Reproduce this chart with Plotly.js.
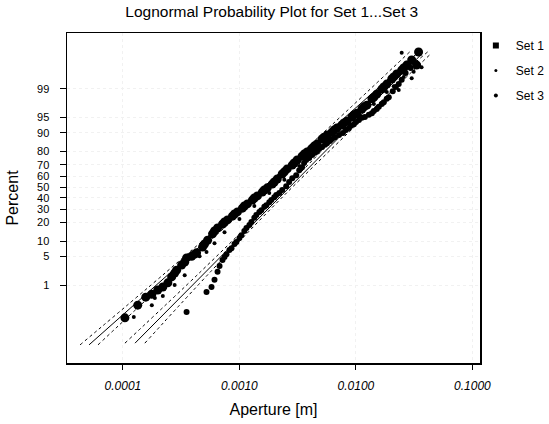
<!DOCTYPE html>
<html>
<head>
<meta charset="utf-8">
<script src="https://cdn.plot.ly/plotly-3.0.1.min.js"></script>
<style>html,body{margin:0;padding:0;background:#fff;}#chart{width:549px;height:424px;}</style>
</head>
<body>
<div id="chart"></div>
<script>
// ---- Data (aperture in m, y as standard normal quantile of the plotting position) ----
const percentTicks = [1, 5, 10, 20, 30, 40, 50, 60, 70, 80, 90, 95, 99];
const apertureTickVals = [0.0001, 0.001, 0.01, 0.1];
const apertureTickText = ['0.0001', '0.0010', '0.0100', '0.1000'];

const set1Aperture = [1.04e-4,1.34e-4,1.57e-4,1.77e-4,1.99e-4,2.20e-4,2.43e-4,2.62e-4,2.89e-4,3.19e-4,3.52e-4,3.89e-4,4.29e-4,4.83e-4,5.33e-4,5.88e-4,6.49e-4,7.16e-4,7.90e-4,8.71e-4,9.61e-4,1.061e-3,1.171e-3,1.292e-3,1.426e-3,1.573e-3,1.735e-3,1.915e-3,2.113e-3,2.33e-3,2.57e-3,2.84e-3,3.13e-3,3.45e-3,3.81e-3,4.21e-3,4.64e-3,5.12e-3,5.65e-3,6.24e-3,6.88e-3,7.59e-3,8.38e-3,9.25e-3,1.021e-2,1.125e-2,1.242e-2,1.371e-2,1.51e-2,1.667e-2,1.84e-2,2.03e-2,2.24e-2,2.47e-2,2.73e-2,3.01e-2,3.45e-2,3.32e-2,
  2.78e-4,3.39e-4,4.13e-4,5.02e-4,6.11e-4,7.45e-4,9.07e-4,1.102e-3,1.343e-3,1.636e-3,1.991e-3,2.43e-3,2.95e-3,3.59e-3,4.38e-3,5.33e-3,6.49e-3,7.89e-3,9.61e-3,1.171e-2,1.426e-2,1.735e-2,2.11e-2,2.57e-2];
const set1Quantile = [-3.10,-2.80,-2.61,-2.54,-2.44,-2.37,-2.27,-2.13,-1.97,-1.85,-1.68,-1.64,-1.56,-1.42,-1.26,-1.11,-0.97,-0.88,-0.78,-0.69,-0.59,-0.50,-0.40,-0.31,-0.21,-0.12,-0.02,0.07,0.19,0.31,0.43,0.52,0.64,0.73,0.83,0.92,1.02,1.14,1.23,1.30,1.40,1.47,1.56,1.66,1.75,1.85,1.94,2.09,2.20,2.32,2.44,2.56,2.68,2.77,2.89,3.01,3.20,2.89,
  -2.04,-1.78,-1.59,-1.35,-1.04,-0.83,-0.64,-0.45,-0.26,-0.07,0.12,0.36,0.57,0.78,0.97,1.18,1.35,1.52,1.71,1.90,2.13,2.37,2.61,2.82];

const set2Aperture = [1.24e-4,1.77e-4,1.88e-4,2.20e-4,2.78e-4,3.39e-4,4.55e-4,5.22e-4,6.11e-4,7.45e-4,1.000e-3,1.343e-3,1.804e-3,2.43e-3,3.26e-3,4.38e-3,5.88e-3,7.89e-3,1.061e-2,1.426e-2,1.84e-2,2.11e-2,2.33e-2,2.57e-2,3.01e-2,3.13e-2,3.66e-2,2.47e-2,3.01e-2];
const set2Quantile = [-3.08,-2.80,-2.63,-2.58,-2.32,-2.09,-1.64,-1.54,-1.33,-1.07,-0.76,-0.45,-0.14,0.17,0.50,0.83,1.11,1.40,1.66,1.97,2.25,2.39,2.30,2.61,2.58,2.73,2.84,3.18,3.06];

const set3Aperture = [3.52e-4,5.22e-4,5.76e-4,6.11e-4,6.49e-4,6.75e-4,7.16e-4,7.74e-4,8.55e-4,9.42e-4,1.040e-3,1.148e-3,1.267e-3,1.397e-3,1.542e-3,1.702e-3,1.878e-3,2.07e-3,2.33e-3,2.67e-3,3.07e-3,3.45e-3,3.74e-3,4.21e-3,4.64e-3,5.12e-3,5.65e-3,6.24e-3,7.16e-3,8.22e-3,9.06e-3,1.000e-2,1.125e-2,1.291e-2,1.426e-2,1.573e-2,1.735e-2,1.914e-2,2.07e-2,2.20e-2,2.33e-2,2.47e-2,2.67e-2,2.95e-2,3.26e-2,
  7.45e-4,8.21e-4,9.07e-4,1.000e-3,1.102e-3,1.218e-3,1.343e-3,1.482e-3,1.636e-3,1.804e-3,1.991e-3,2.20e-3,2.52e-3,2.84e-3,3.26e-3,3.59e-3,3.97e-3,4.46e-3,4.83e-3,5.43e-3,5.99e-3,6.61e-3,7.74e-3,8.71e-3,9.61e-3,1.061e-2,1.194e-2,1.371e-2,1.51e-2,1.667e-2,1.84e-2];
const set3Quantile = [-2.96,-2.49,-2.37,-2.20,-2.01,-1.87,-1.73,-1.59,-1.45,-1.30,-1.14,-0.97,-0.83,-0.66,-0.55,-0.43,-0.31,-0.19,-0.07,0.12,0.28,0.47,0.64,0.76,0.85,0.95,1.04,1.14,1.23,1.35,1.45,1.54,1.64,1.71,1.80,1.90,2.01,2.13,2.27,2.37,2.44,2.54,2.70,2.82,2.94,
  -1.66,-1.49,-1.35,-1.21,-1.04,-0.90,-0.73,-0.59,-0.47,-0.36,-0.24,-0.14,0.02,0.21,0.40,0.57,0.69,0.81,0.90,1.00,1.09,1.18,1.28,1.40,1.49,1.59,1.66,1.75,1.85,1.97,2.09];

// fitted lognormal lines and their dotted confidence bounds
const fitAQuantile = [-3.74, 3.20];
const fitAAperture = [5.12e-5, 3.45e-2];
const boundQuantileA = [-3.74, -2.01, -0.27, 1.46, 3.20];
const boundALower = [4.29e-5, 2.366e-4, 1.254e-3, 6.14e-3, 2.89e-2];
const boundAUpper = [6.11e-5, 2.88e-4, 1.411e-3, 7.48e-3, 4.12e-2];

const fitBQuantile = [-3.70, 3.13];
const fitBAperture = [1.27e-4, 3.60e-2];
const boundQuantileB = [-3.70, -1.99, -0.28, 1.42, 3.13];
const boundBLower = [1.04e-4, 4.71e-4, 2.01e-3, 7.94e-3, 3.01e-2];
const boundBUpper = [1.542e-4, 5.73e-4, 2.26e-3, 9.66e-3, 4.29e-2];

const seriesNames = ['Set 1', 'Set 2', 'Set 3'];

// inverse standard normal (probability axis scale)
function invNorm(p) {
  const a = [-3.969683028665376e+01, 2.209460984245205e+02, -2.759285104469687e+02, 1.383577518672690e+02, -3.066479806614716e+01, 2.506628277459239e+00];
  const b = [-5.447609879822406e+01, 1.615858368580409e+02, -1.556989798598866e+02, 6.680131188771972e+01, -1.328068155288572e+01];
  const c = [-7.784894002430293e-03, -3.223964580411365e-01, -2.400758277161838e+00, -2.549732539343734e+00, 4.374664141464968e+00, 2.938163982698783e+00];
  const d = [7.784695709041462e-03, 3.224671290700398e-01, 2.445134137142996e+00, 3.754408061132838e+00];
  const plow = 0.02425;
  let q, r;
  if (p < plow) {
    q = Math.sqrt(-2 * Math.log(p));
    return (((((c[0]*q+c[1])*q+c[2])*q+c[3])*q+c[4])*q+c[5]) / ((((d[0]*q+d[1])*q+d[2])*q+d[3])*q+1);
  } else if (p <= 1 - plow) {
    q = p - 0.5; r = q*q;
    return (((((a[0]*r+a[1])*r+a[2])*r+a[3])*r+a[4])*r+a[5])*q / (((((b[0]*r+b[1])*r+b[2])*r+b[3])*r+b[4])*r+1);
  } else {
    q = Math.sqrt(-2 * Math.log(1 - p));
    return -(((((c[0]*q+c[1])*q+c[2])*q+c[3])*q+c[4])*q+c[5]) / ((((d[0]*q+d[1])*q+d[2])*q+d[3])*q+1);
  }
}

const FONT = 'Liberation Sans, Arial, sans-serif';
const lineTrace = (x, y, dash) => ({
  x: x, y: y, type: 'scatter', mode: 'lines', showlegend: false, hoverinfo: 'skip',
  line: {color: '#000', width: 1, dash: dash, shape: dash === 'dot' ? 'spline' : 'linear'}
});
const legendTrace = (name, rank, size, symbol) => ({
  x: [null], y: [null], type: 'scatter', mode: 'markers', name: name, legendrank: rank,
  legendgroup: 'lg' + rank,
  marker: {color: '#000', size: size, symbol: symbol}
});

const traces = [
  lineTrace(fitAAperture, fitAQuantile, 'solid'),
  lineTrace(boundALower, boundQuantileA, 'dot'),
  lineTrace(boundAUpper, boundQuantileA, 'dot'),
  lineTrace(fitBAperture, fitBQuantile, 'solid'),
  lineTrace(boundBLower, boundQuantileB, 'dot'),
  lineTrace(boundBUpper, boundQuantileB, 'dot'),
  {x: set3Aperture, y: set3Quantile, type: 'scatter', mode: 'markers', name: seriesNames[2], showlegend: false,
   marker: {color: '#000', size: 6, symbol: 'circle'}},
  {x: set2Aperture, y: set2Quantile, type: 'scatter', mode: 'markers', name: seriesNames[1], showlegend: false,
   marker: {color: '#000', size: 4, symbol: 'circle'}},
  {x: set1Aperture, y: set1Quantile, type: 'scatter', mode: 'markers', name: seriesNames[0], showlegend: false,
   marker: {color: '#000', size: 9, symbol: 'circle'}},
  legendTrace(seriesNames[0], 1, 6, 'square'),
  legendTrace(seriesNames[1], 2, 3, 'circle'),
  legendTrace(seriesNames[2], 3, 4, 'circle')
];

const layout = {
  width: 549, height: 424,
  margin: {l: 67, r: 69, t: 33, b: 61, autoexpand: false},
  paper_bgcolor: '#fff', plot_bgcolor: '#fff',
  font: {family: FONT, color: '#000', size: 12},
  title: {text: 'Lognormal Probability Plot for Set 1...Set 3', font: {family: FONT, size: 15.5, color: '#000'},
          x: 0.495, xanchor: 'center', y: 0.972, yanchor: 'middle', yref: 'container'},
  xaxis: {
    type: 'log', range: [-4.48, -0.935],
    tickvals: apertureTickVals, ticktext: apertureTickText,
    tickfont: {family: FONT, size: 12, style: 'italic'},
    ticks: 'outside', ticklen: 5, tickcolor: '#000', ticklabelstandoff: 6,
    showline: true, linecolor: '#000', linewidth: 1.5, mirror: true,
    showgrid: true, gridcolor: '#f1f1f1', griddash: 'dot', gridwidth: 1, zeroline: false,
    title: {text: 'Aperture [m]', font: {family: FONT, size: 16}, standoff: 12}
  },
  yaxis: {
    range: [-4.17, 3.65],
    tickvals: percentTicks.map(p => invNorm(p / 100)),
    ticktext: percentTicks.map(String),
    tickfont: {family: FONT, size: 11},
    ticks: 'outside', ticklen: 6, tickcolor: '#000', ticklabelstandoff: 8,
    showline: true, linecolor: '#000', linewidth: 1.5, mirror: true,
    showgrid: true, gridcolor: '#f1f1f1', griddash: 'dot', gridwidth: 1, zeroline: false,
    title: {text: 'Percent', font: {family: FONT, size: 16}, standoff: 14}
  },
  showlegend: true,
  legend: {x: 0.99, xanchor: 'left', y: 1.006, yanchor: 'top', traceorder: 'grouped',
           font: {family: FONT, size: 12}, bgcolor: 'rgba(0,0,0,0)', itemwidth: 30, tracegroupgap: 6}
};

Plotly.newPlot('chart', traces, layout, {displayModeBar: false, staticPlot: true});
</script>
</body>
</html>
